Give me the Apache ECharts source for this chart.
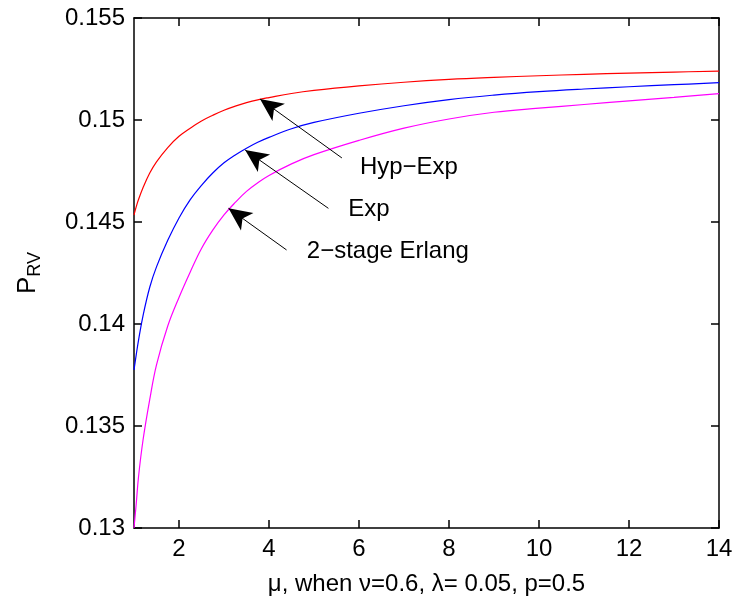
<!DOCTYPE html>
<html>
<head>
<meta charset="utf-8">
<script src="https://cdn.jsdelivr.net/npm/echarts@6/dist/echarts.min.js"></script>
<style>
  html, body { margin: 0; padding: 0; background: #fff; }
  #chart { width: 733px; height: 607px; }
</style>
</head>
<body>
<div id="chart"></div>
<script>
  var muValues = [1, 1.05, 1.1, 1.2, 1.35, 1.5, 1.75, 2, 2.25, 2.5, 2.75, 3, 3.25, 3.5, 3.75, 4, 4.5, 5, 6, 7, 8, 9, 10, 11, 12, 13, 14]
  var hypExp = [0.14534, 0.14575, 0.14610, 0.14668, 0.14740, 0.14795, 0.14865, 0.14920, 0.14960, 0.14995, 0.15023, 0.15048, 0.15068, 0.15085, 0.15099, 0.15110, 0.15130, 0.15145, 0.15167, 0.15185, 0.15199, 0.15209, 0.15217, 0.15224, 0.15230, 0.15235, 0.15240]
  var expo   = [0.13775, 0.13850, 0.13920, 0.14040, 0.14180, 0.14280, 0.14410, 0.14520, 0.14610, 0.14680, 0.14740, 0.14790, 0.14829, 0.14862, 0.14891, 0.14915, 0.14957, 0.14988, 0.15033, 0.15070, 0.15100, 0.15122, 0.15139, 0.15152, 0.15163, 0.15173, 0.15183]
  var erlang = [0.13000, 0.13120, 0.13250, 0.13430, 0.13630, 0.13800, 0.13990, 0.14130, 0.14255, 0.14370, 0.14460, 0.14535, 0.14596, 0.14650, 0.14692, 0.14728, 0.14785, 0.14830, 0.14900, 0.14960, 0.15005, 0.15038, 0.15058, 0.15076, 0.15094, 0.15111, 0.15129]
  var xTicks = [2, 4, 6, 8, 10, 12, 14]

  // annotations: [text, text anchor, arrow tail, arrow tip]
  var notes = [
    ['Hyp\u2212Exp', [6.02, 0.14770], [5.62, 0.14814], [3.8, 0.15103]],
    ['Exp', [5.76, 0.14564], [5.32, 0.14567], [3.47, 0.14853]],
    ['2\u2212stage Erlang', [4.84, 0.14358], [4.39, 0.14363], [3.10, 0.14567]]
  ]

  function pairs(ys) {
    return muValues.map(function (x, i) { return [x, ys[i]] })
  }

  var font = 'Liberation Sans, Arial, Helvetica, sans-serif'
  var myChart = echarts.init(document.getElementById('chart'))

  var lineStyleAxis = { color: '#000', width: 1.5 }
  var curve = function (name, ys, color) {
    return {
      name: name, type: 'line', data: pairs(ys),
      smooth: 0.4, showSymbol: false, silent: true,
      lineStyle: { color: color, width: 1.2 }
    }
  }

  var option = {
    animation: false,
    backgroundColor: '#fff',
    textStyle: { fontFamily: font },
    grid: { left: 134, right: 14, top: 18, bottom: 79, outerBoundsMode: 'none' },
    xAxis: [{
      type: 'value', min: 1, max: 14,
      axisLine: { onZero: false, lineStyle: lineStyleAxis },
      axisTick: { inside: true, length: 8, customValues: xTicks, lineStyle: lineStyleAxis },
      axisLabel: { customValues: xTicks, color: '#000', fontSize: 24, margin: 9, fontFamily: font },
      splitLine: { show: false },
      name: '\u03bc, when \u03bd=0.6, \u03bb= 0.05, p=0.5',
      nameLocation: 'middle', nameGap: 44,
      nameTextStyle: { color: '#000', fontSize: 24, fontFamily: font }
    }, {
      type: 'value', min: 1, max: 14, position: 'top',
      axisLine: { onZero: false, lineStyle: lineStyleAxis },
      axisTick: { inside: true, length: 8, customValues: xTicks, lineStyle: lineStyleAxis },
      axisLabel: { show: false },
      splitLine: { show: false }
    }],
    yAxis: [{
      type: 'value', min: 0.13, max: 0.155, interval: 0.005,
      axisLine: { onZero: false, lineStyle: lineStyleAxis },
      axisTick: { inside: true, length: 8, lineStyle: lineStyleAxis },
      axisLabel: { color: '#000', fontSize: 24, margin: 9, fontFamily: font,
        formatter: function (v) { return String(+v.toFixed(3)) } },
      splitLine: { show: false },
      name: '{p|P}{s|RV}',
      nameLocation: 'middle', nameGap: 90, nameRotate: 90,
      nameTextStyle: {
        color: '#000', fontFamily: font,
        rich: {
          p: { fontSize: 26, color: '#000', fontFamily: font },
          s: { fontSize: 18, color: '#000', fontFamily: font, padding: [14, 0, 0, 0] }
        }
      }
    }, {
      type: 'value', min: 0.13, max: 0.155, interval: 0.005, position: 'right',
      axisLine: { onZero: false, lineStyle: lineStyleAxis },
      axisTick: { inside: true, length: 8, lineStyle: lineStyleAxis },
      axisLabel: { show: false },
      splitLine: { show: false }
    }],
    series: [
      curve('Hyp-Exp', hypExp, '#ff0000'),
      curve('Exp', expo, '#0000ff'),
      curve('2-stage Erlang', erlang, '#ff00ff'),
      {
        // arrows and their texts
        type: 'line', data: [], silent: true,
        markLine: {
          silent: true, animation: false,
          symbol: ['none', 'arrow'], symbolSize: [16, 23],
          lineStyle: { color: '#000', width: 1, type: 'solid' },
          itemStyle: { color: '#000' },
          label: { show: false },
          emphasis: { disabled: true },
          data: notes.map(function (n) {
            return [{ coord: n[2] }, { coord: n[3] }]
          })
        },
        markPoint: {
          silent: true, animation: false,
          symbol: 'circle', symbolSize: 0,
          label: { show: true, position: 'right', distance: 0, color: '#000', fontSize: 24, fontFamily: font,
            formatter: function (p) { return p.name } },
          data: notes.map(function (n) {
            return { name: n[0], coord: n[1] }
          })
        }
      }
    ]
  }
  myChart.setOption(option)
</script>
</body>
</html>
